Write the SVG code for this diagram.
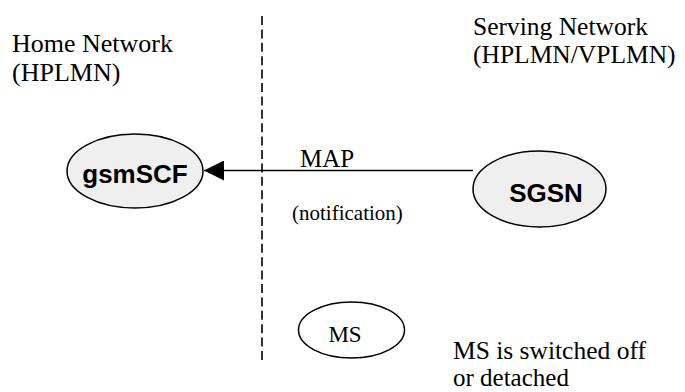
<svg xmlns="http://www.w3.org/2000/svg" width="685" height="392" viewBox="0 0 685 392">
<style>
.node{stroke:#000;stroke-width:1.5}
</style>
<defs>
<marker id="ah" markerWidth="20" markerHeight="20" refX="20" refY="10" orient="auto" markerUnits="userSpaceOnUse">
<path d="M0,0 L20,10 L0,20 Z" fill="#000"/>
</marker>
</defs>
<rect width="685" height="392" fill="#fff"/>
<g id="labels" fill="#000">
<text x="12" y="52" font-size="26" style="font-family:'Liberation Serif',serif">Home Network</text>
<text x="12" y="81" font-size="26" style="font-family:'Liberation Serif',serif">(HPLMN)</text>
<text x="473" y="35" font-size="25.5" style="font-family:'Liberation Serif',serif">Serving Network</text>
<text x="473" y="63" font-size="25.5" style="font-family:'Liberation Serif',serif">(HPLMN/VPLMN)</text>
<text x="453" y="359" font-size="25.5" style="font-family:'Liberation Serif',serif">MS is switched off</text>
<text x="453" y="386" font-size="25" style="font-family:'Liberation Serif',serif">or detached</text>
</g>
<g id="divider">
<line x1="262" y1="16" x2="262" y2="360.5" stroke="#000" stroke-width="1.6" stroke-dasharray="9,4.4"/>
</g>
<g id="connectors" fill="#000">
<line x1="473" y1="170.5" x2="204" y2="170.5" stroke="#000" stroke-width="1.5" marker-end="url(#ah)"/>
<text x="300" y="166.5" font-size="25" style="font-family:'Liberation Serif',serif">MAP</text>
<text x="292" y="220" font-size="21" style="font-family:'Liberation Serif',serif">(notification)</text>
</g>
<g id="gsmSCF">
<ellipse class="node" cx="135" cy="171" rx="68" ry="37" fill="#efefef"/>
<text x="135" y="183" font-size="26" style="font-family:'Liberation Sans',sans-serif;font-weight:bold" text-anchor="middle">gsmSCF</text>
</g>
<g id="SGSN">
<ellipse class="node" cx="539.5" cy="189" rx="66.5" ry="38" fill="#efefef"/>
<text x="546" y="202" font-size="26" style="font-family:'Liberation Sans',sans-serif;font-weight:bold" text-anchor="middle">SGSN</text>
</g>
<g id="MS">
<ellipse class="node" cx="351.5" cy="330" rx="53" ry="28" fill="#fff"/>
<text x="345" y="341.5" font-size="23" style="font-family:'Liberation Serif',serif" text-anchor="middle">MS</text>
</g>
</svg>
